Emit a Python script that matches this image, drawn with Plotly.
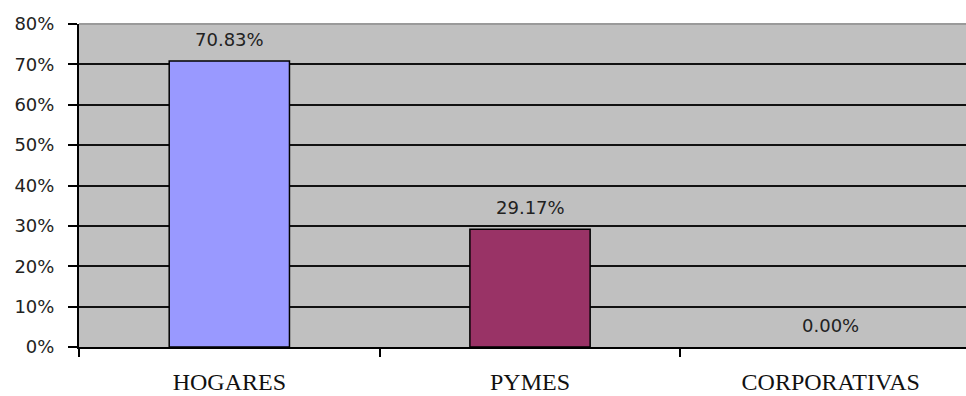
import plotly.graph_objects as go

# Share of customers by segment
categories = ["HOGARES", "PYMES", "CORPORATIVAS"]
shares = [0.7083, 0.2917, 0.0]
bar_colors = ["#9999FF", "#993366", "#993366"]
y_ticks = [0, 0.1, 0.2, 0.3, 0.4, 0.5, 0.6, 0.7, 0.8]
y_tick_labels = ["0%", "10%", "20%", "30%", "40%", "50%", "60%", "70%", "80%"]

# No outline on an empty bar so nothing sits on the axis line
outline_widths = [1.5 if v > 0 else 0 for v in shares]

fig = go.Figure()
fig.add_trace(go.Bar(
    x=categories,
    y=shares,
    width=0.4,
    marker=dict(color=bar_colors, line=dict(color="black", width=outline_widths)),
    hoverinfo="skip",
))

# Value labels above each bar
for cat, val in zip(categories, shares):
    fig.add_annotation(
        x=cat, y=val, text=f"{val * 100:.2f}%",
        showarrow=False, yanchor="middle", yshift=22,
        font=dict(family="DejaVu Sans", size=18, color="#222222"),
    )

# Lighter border along the top of the plot area
fig.add_shape(type="line", xref="paper", yref="paper", x0=0, x1=1, y0=1, y1=1,
              line=dict(color="#9a9a9a", width=2), layer="above")

fig.update_layout(
    width=966, height=396,
    margin=dict(l=79, r=0, t=24, b=49),
    paper_bgcolor="white",
    plot_bgcolor="#C0C0C0",
    showlegend=False,
    bargap=0.6,
    xaxis=dict(
        type="category",
        range=[-0.5, 2.45],
        tickson="boundaries",
        ticks="outside", ticklen=8, tickwidth=2, tickcolor="black",
        showline=True, linecolor="black", linewidth=2,
        showgrid=False,
        tickfont=dict(family="Liberation Serif", size=24, color="#111111"),
        ticklabelstandoff=12,
    ),
    yaxis=dict(
        range=[0, 0.8],
        tickvals=y_ticks, ticktext=y_tick_labels,
        ticks="outside", ticklen=9, tickwidth=2, tickcolor="black",
        showline=True, linecolor="black", linewidth=2,
        showgrid=True, gridcolor="#111111", gridwidth=2,
        zeroline=False,
        tickfont=dict(family="DejaVu Sans", size=18, color="#222222"),
        ticklabelstandoff=10,
    ),
)

fig.write_html("out.html")
